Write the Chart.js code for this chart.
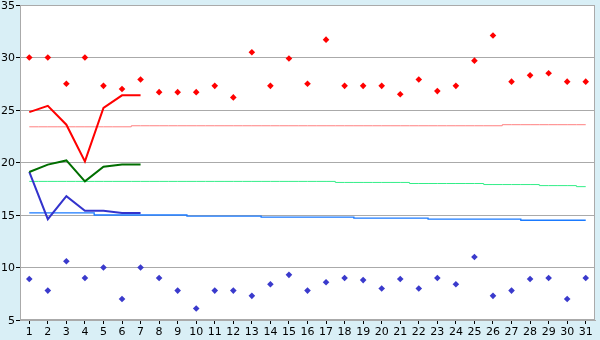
<!DOCTYPE html>
<html>
<head>
<meta charset="utf-8">
<script src="https://cdn.jsdelivr.net/npm/chart.js@4"></script>
<style>
html,body{margin:0;padding:0;background:#d9eff6;}
#wrap{width:600px;height:340px;}
</style>
</head>
<body>
<div id="wrap"><canvas id="c" width="600" height="340"></canvas></div>
<script>
const days = Array.from({length:31},(_,i)=>String(i+1));
const yTicks = [5,10,15,20,25,30,35];

const dailyMax = [30.0,30.0,27.5,30.0,27.3,27.0,27.9,26.7,26.7,26.7,27.3,26.2,30.5,27.3,29.9,27.5,31.7,27.3,27.3,27.3,26.5,27.9,26.8,27.3,29.7,32.1,27.7,28.3,28.5,27.7,27.7];
const dailyMin = [8.9,7.8,10.6,9.0,10.0,7.0,10.0,9.0,7.8,6.1,7.8,7.8,7.3,8.4,9.3,7.8,8.6,9.0,8.8,8.0,8.9,8.0,9.0,8.4,11.0,7.3,7.8,8.9,9.0,7.0,9.0];

const curMax  = [24.8,25.4,23.6,20.1,25.2,26.4,26.4];
const curMean = [19.1,19.8,20.2,18.2,19.6,19.8,19.8];
const curMin  = [19.1,14.6,16.8,15.4,15.4,15.2,15.2];

const normMax  = [23.4,23.4,23.4,23.4,23.4,23.4,23.5,23.5,23.5,23.5,23.5,23.5,23.5,23.5,23.5,23.5,23.5,23.5,23.5,23.5,23.5,23.5,23.5,23.5,23.5,23.5,23.6,23.6,23.6,23.6,23.6];
const normMean = [18.2,18.2,18.2,18.2,18.2,18.2,18.2,18.2,18.2,18.2,18.2,18.2,18.2,18.2,18.2,18.2,18.2,18.1,18.1,18.1,18.1,18.0,18.0,18.0,18.0,17.9,17.9,17.9,17.8,17.8,17.7];
const normMin  = [15.2,15.2,15.2,15.2,15.0,15.0,15.0,15.0,15.0,14.9,14.9,14.9,14.9,14.8,14.8,14.8,14.8,14.8,14.7,14.7,14.7,14.7,14.6,14.6,14.6,14.6,14.6,14.5,14.5,14.5,14.5];

const bgPlugin = {
  id:'bg',
  beforeDraw(chart){
    const {ctx, chartArea:a} = chart;
    ctx.save();
    ctx.fillStyle = '#d9eff6';
    ctx.fillRect(0,0,chart.width,chart.height);
    ctx.fillStyle = '#ffffff';
    ctx.fillRect(a.left,a.top,a.right-a.left,a.bottom-a.top);
    ctx.restore();
  },
  afterDatasetsDraw(chart){
    const {ctx, chartArea:a} = chart;
    ctx.save();
    ctx.strokeStyle = '#aaaaaa';
    ctx.lineWidth = 1;
    ctx.strokeRect(Math.round(a.left)+0.5,Math.round(a.top)+0.5,Math.round(a.right-a.left)-1,Math.round(a.bottom-a.top)-1);
    ctx.restore();
  }
};

const pad = a => a.concat(Array(31-a.length).fill(null));

new Chart(document.getElementById('c'), {
  type:'line',
  data:{
    labels: days,
    datasets:[
      {data:normMax, borderColor:'#ff8080', borderWidth:1, pointRadius:0, stepped:'middle', order:10},
      {data:normMean, borderColor:'#33ee88', borderWidth:1, pointRadius:0, stepped:'middle', order:10},
      {data:normMin, borderColor:'#1a7aff', borderWidth:1.3, pointRadius:0, stepped:'middle', order:10},
      {data:pad(curMax), borderColor:'#ff0000', borderWidth:2, pointRadius:0, order:5},
      {data:pad(curMean), borderColor:'#006e00', borderWidth:2, pointRadius:0, order:5},
      {data:pad(curMin), borderColor:'#3333cc', borderWidth:2, pointRadius:0, order:5},
      {data:dailyMax, showLine:false, pointStyle:'rectRot', pointRadius:3.3, pointBorderWidth:0, pointBackgroundColor:'#ff0000', borderColor:'#ff0000', order:1},
      {data:dailyMin, showLine:false, pointStyle:'rectRot', pointRadius:3.3, pointBorderWidth:0, pointBackgroundColor:'#3a3acc', borderColor:'#3a3acc', order:1}
    ]
  },
  options:{
    responsive:false,
    animation:false,
    events:[],
    layout:{padding:{top:5,right:5,left:0,bottom:0}},
    plugins:{legend:{display:false},tooltip:{enabled:false}},
    scales:{
      x:{
        offset:true,
        grid:{offset:false, drawOnChartArea:false, drawTicks:true, tickLength:4, tickColor:'#000000'},
        border:{color:'#aaaaaa'},
        ticks:{color:'#000', font:{family:'DejaVu Sans', size:11}, padding:2, maxRotation:0, autoSkip:false},
        afterFit(s){ s.height = 20; s.paddingLeft = 0; s.paddingRight = 0; }
      },
      y:{
        min:5, max:35,
        afterBuildTicks(s){ s.ticks = yTicks.map(v=>({value:v})); },
        grid:{color:'#aaaaaa', tickLength:4, tickColor:'#000000'},
        border:{color:'#aaaaaa'},
        ticks:{color:'#000', font:{family:'DejaVu Sans', size:11}, padding:1, labelOffset:1},
        afterFit(s){ s.width = 20; s.paddingTop = 0; s.paddingBottom = 0; }
      }
    }
  },
  plugins:[bgPlugin]
});
</script>
</body>
</html>
